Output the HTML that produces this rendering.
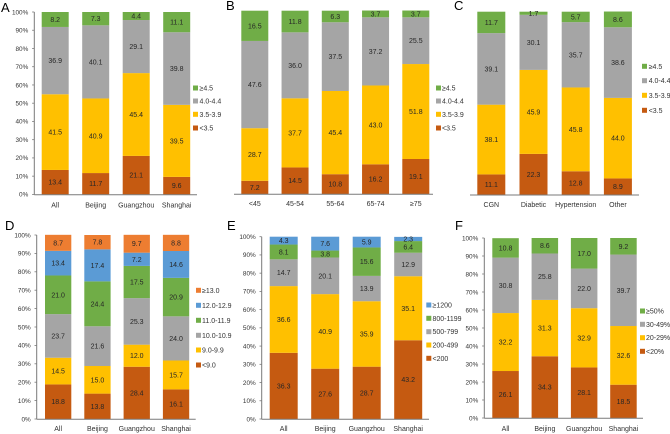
<!DOCTYPE html>
<html>
<head>
<meta charset="utf-8">
<title>Stacked percentage bar charts</title>
<style>
html,body{margin:0;padding:0;background:#fff;}
#figure{display:block;width:670px;height:434px;}
text{font-family:"Liberation Sans",sans-serif;}
</style>
</head>
<body>
<svg id="figure" xmlns="http://www.w3.org/2000/svg" width="670" height="434" viewBox="0 0 670 434"></svg>
<script>
// Shared axis values
const yTickValues = [0, 10, 20, 30, 40, 50, 60, 70, 80, 90, 100];

// Panel A
const aCategories = ['All', 'Beijing', 'Guangzhou', 'Shanghai'];
const aSeriesNames = ['<3.5', '3.5-3.9', '4.0-4.4', '≥4.5'];
const aLt35 = [13.4, 11.7, 21.1, 9.6];
const a35to39 = [41.5, 40.9, 45.4, 39.5];
const a40to44 = [36.9, 40.1, 29.1, 39.8];
const aGe45 = [8.2, 7.3, 4.4, 11.1];

// Panel B
const bCategories = ['<45', '45-54', '55-64', '65-74', '≥75'];
const bSeriesNames = ['<3.5', '3.5-3.9', '4.0-4.4', '≥4.5'];
const bLt35 = [7.2, 14.5, 10.8, 16.2, 19.1];
const b35to39 = [28.7, 37.7, 45.4, 43.0, 51.8];
const b40to44 = [47.6, 36.0, 37.5, 37.2, 25.5];
const bGe45 = [16.5, 11.8, 6.3, 3.7, 3.7];

// Panel C
const cCategories = ['CGN', 'Diabetic', 'Hypertension', 'Other'];
const cSeriesNames = ['<3.5', '3.5-3.9', '4.0-4.4', '≥4.5'];
const cLt35 = [11.1, 22.3, 12.8, 8.9];
const c35to39 = [38.1, 45.9, 45.8, 44.0];
const c40to44 = [39.1, 30.1, 35.7, 38.6];
const cGe45 = [11.7, 1.7, 5.7, 8.6];

// Panel D
const dCategories = ['All', 'Beijing', 'Guangzhou', 'Shanghai'];
const dSeriesNames = ['<9.0', '9.0-9.9', '10.0-10.9', '11.0-11.9', '12.0-12.9', '≥13.0'];
const dLt9 = [18.8, 13.8, 28.4, 16.1];
const d9to99 = [14.5, 15.0, 12.0, 15.7];
const d10to109 = [23.7, 21.6, 25.3, 24.0];
const d11to119 = [21.0, 24.4, 17.5, 20.9];
const d12to129 = [13.4, 17.4, 7.2, 14.6];
const dGe13 = [8.7, 7.8, 9.7, 8.8];

// Panel E
const eCategories = ['All', 'Beijing', 'Guangzhou', 'Shanghai'];
const eSeriesNames = ['<200', '200-499', '500-799', '800-1199', '≥1200'];
const eLt200 = [36.3, 27.6, 28.7, 43.2];
const e200to499 = [36.6, 40.9, 35.9, 35.1];
const e500to799 = [14.7, 20.1, 13.9, 12.9];
const e800to1199 = [8.1, 3.8, 15.6, 6.4];
const eGe1200 = [4.3, 7.6, 5.9, 2.3];

// Panel F
const fCategories = ['All', 'Beijing', 'Guangzhou', 'Shanghai'];
const fSeriesNames = ['<20%', '20-29%', '30-49%', '≥50%'];
const fLt20 = [26.1, 34.3, 28.1, 18.5];
const f20to29 = [32.2, 31.3, 32.9, 32.6];
const f30to49 = [30.8, 25.8, 22.0, 39.7];
const fGe50 = [10.8, 8.6, 17.0, 9.2];

const BROWN = '#C55A11', GOLD = '#FFC000', GRAY = '#A5A5A5', GREEN = '#70AD47', BLUE = '#5B9BD5', ORANGE = '#ED7D31';

const panels = [
  { id: 'a', letter: 'A', lx: 1, ly: 12, cats: aCategories, names: aSeriesNames, series: [aLt35, a35to39, a40to44, aGe45],
    colors: [BROWN, GOLD, GRAY, GREEN], y0: 194.4, y100: 12, left: 41.7, bw: 27, step: 40.5, ax0: 34.3, ax1: 197, yAxis: true,
    catY: 207.5, swX: 193, txX: 199.5, legY: [128, 114.3, 101, 88] },
  { id: 'b', letter: 'B', lx: 226, ly: 10, cats: bCategories, names: bSeriesNames, series: [bLt35, b35to39, b40to44, bGe45],
    colors: [BROWN, GOLD, GRAY, GREEN], y0: 194, y100: 10.7, left: 241.3, bw: 27, step: 40.25, ax0: 234, ax1: 433, yAxis: false,
    catY: 205.8, swX: 436, txX: 442, legY: [128, 114.3, 101, 88] },
  { id: 'c', letter: 'C', lx: 454, ly: 10, cats: cCategories, names: cSeriesNames, series: [cLt35, c35to39, c40to44, cGe45],
    colors: [BROWN, GOLD, GRAY, GREEN], y0: 194.7, y100: 11.7, left: 477.3, bw: 28, step: 42.2, ax0: 470, ax1: 639, yAxis: false,
    catY: 207, swX: 642, txX: 648.7, legY: [110.3, 95.3, 80.7, 66.3] },
  { id: 'd', letter: 'D', lx: 5, ly: 230, cats: dCategories, names: dSeriesNames, series: [dLt9, d9to99, d10to109, d11to119, d12to129, dGe13],
    colors: [BROWN, GOLD, GRAY, GREEN, BLUE, ORANGE], y0: 419, y100: 235, left: 45, bw: 26.3, step: 39.3, ax0: 36.7, ax1: 195.7, yAxis: true,
    catY: 430.8, swX: 196, txX: 202, legY: [365, 350, 335.3, 320.3, 305.3, 290.3] },
  { id: 'e', letter: 'E', lx: 227, ly: 230, cats: eCategories, names: eSeriesNames, series: [eLt200, e200to499, e500to799, e800to1199, eGe1200],
    colors: [BROWN, GOLD, GRAY, GREEN, BLUE], y0: 419, y100: 236.7, left: 269.7, bw: 28, step: 41.5, ax0: 261.7, ax1: 429, yAxis: true,
    catY: 431, swX: 426.3, txX: 432.5, legY: [358.3, 345, 331.7, 318.3, 305] },
  { id: 'f', letter: 'F', lx: 455, ly: 230, cats: fCategories, names: fSeriesNames, series: [fLt20, f20to29, f30to49, fGe50],
    colors: [BROWN, GOLD, GRAY, GREEN], y0: 418, y100: 238, left: 492.3, bw: 26.5, step: 39.3, ax0: 484.3, ax1: 643, yAxis: true,
    catY: 430.8, swX: 640, txX: 646, legY: [351.3, 337.7, 324.3, 311] }
];

const svgNS = 'http://www.w3.org/2000/svg';
const root = document.getElementById('figure');

function make(parent, tag, attrs) {
  const el = document.createElementNS(svgNS, tag);
  Object.keys(attrs).forEach(function (k) { el.setAttribute(k, attrs[k]); });
  parent.appendChild(el);
  return el;
}

function slug(s) {
  return String(s).replace('≥', 'ge-').replace('<', 'lt-').replace('%', 'pct').replace(/[^A-Za-z0-9-]/g, '-').toLowerCase();
}

panels.forEach(function (p) {
  const yScale = function (v) { return p.y0 - (v / 100) * (p.y0 - p.y100); };
  const xScale = function (i) { return p.left + i * p.step; };

  const g = make(root, 'g', {});
  
  

  const letter = make(g, 'text', { x: p.lx, y: p.ly, 'font-size': 13, fill: '#000' });
  letter.textContent = p.letter;
  
  

  // stacked bars
  p.cats.forEach(function (cat, i) {
    let acc = 0;
    p.series.forEach(function (vals, s) {
      const v = vals[i];
      const yTop = yScale(acc + v);
      const yBot = yScale(acc);
      const r = make(g, 'rect', { x: xScale(i), y: yTop, width: p.bw, height: Math.max(0, yBot - yTop), fill: p.colors[s] });
      
      
      const t = make(g, 'text', { x: xScale(i) + p.bw / 2, y: (yTop + yBot) / 2 + 2.5, 'font-size': 7, fill: '#262626', 'text-anchor': 'middle' });
      t.textContent = v.toFixed(1);
      
      
      acc += v;
    });
    const c = make(g, 'text', { x: xScale(i) + p.bw / 2, y: p.catY, 'font-size': 7, fill: '#333', 'text-anchor': 'middle' });
    c.textContent = cat;
    
    
  });

  // x axis
  const xAxis = make(g, 'line', { x1: p.ax0, x2: p.ax1, y1: p.y0 + 0.3, y2: p.y0 + 0.3, stroke: '#7a7a7a', 'stroke-width': 1 });
  
  

  // y axis
  if (p.yAxis) {
    const yAxis = make(g, 'line', { x1: p.ax0, x2: p.ax0, y1: p.y100, y2: p.y0 + 0.3, stroke: '#7a7a7a', 'stroke-width': 1 });
    
    
    yTickValues.forEach(function (v) {
      const tick = make(g, 'line', { x1: p.ax0 - 2.2, x2: p.ax0, y1: yScale(v), y2: yScale(v), stroke: '#7a7a7a', 'stroke-width': 0.8 });
      
      
      const lab = make(g, 'text', { x: p.ax0 - 6, y: yScale(v) + 2.3, 'font-size': 6.4, fill: '#333', 'text-anchor': 'end' });
      lab.textContent = v + '%';
      
      
    });
  }

  // legend
  p.names.forEach(function (name, s) {
    const cy = p.legY[s];
    const sw = make(g, 'rect', { x: p.swX, y: cy - 2.5, width: 5, height: 5, fill: p.colors[s] });
    
    
    const tx = make(g, 'text', { x: p.txX, y: cy + 2.5, 'font-size': 7, fill: '#333' });
    tx.textContent = name;
    
    
  });
});
</script>
</body>
</html>
